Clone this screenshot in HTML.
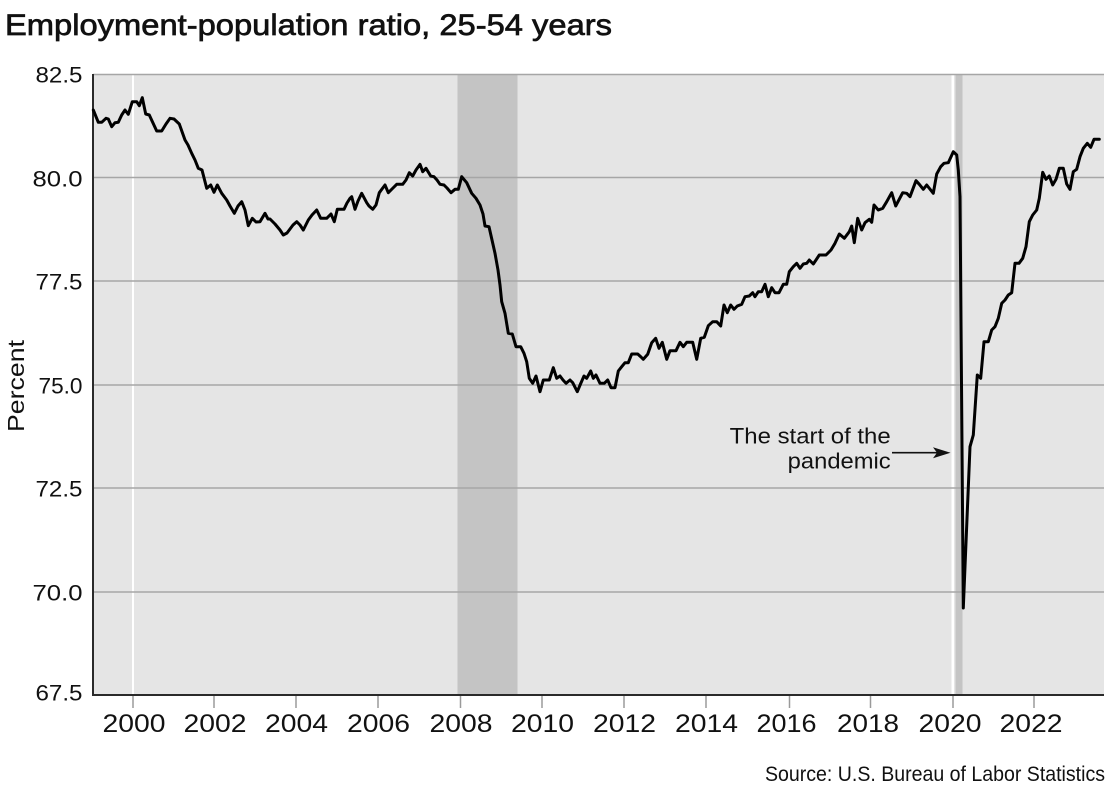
<!DOCTYPE html>
<html>
<head>
<meta charset="utf-8">
<style>
  html, body { margin: 0; padding: 0; background: #ffffff; }
  svg { display: block; }
  text { font-family: "Liberation Sans", "DejaVu Sans", sans-serif; fill: #111; }
</style>
</head>
<body>
<svg width="1114" height="785" viewBox="0 0 1114 785" xmlns="http://www.w3.org/2000/svg">
  <!-- Title -->
  <text x="5" y="35" font-size="30" textLength="607" lengthAdjust="spacingAndGlyphs" stroke="#111" stroke-width="0.7">Employment-population ratio, 25-54 years</text>

  <!-- Plot background -->
  <rect x="93" y="74" width="1011" height="621" fill="#e5e5e5"/>

  <!-- Recession shading -->
  <rect x="457.5" y="74" width="60" height="621" fill="#c4c4c4"/>
  <rect x="955.5" y="74" width="7" height="621" fill="#c4c4c4"/>

  <!-- White vertical markers -->
  <rect x="132" y="74" width="2" height="621" fill="#ffffff"/>
  <rect x="951.5" y="74" width="2.5" height="621" fill="#ffffff"/>

  <!-- Gridlines -->
  <g stroke="#a6a6a6" stroke-width="1.5">
    <line x1="93" y1="74.5" x2="1104" y2="74.5"/>
    <line x1="93" y1="177.5" x2="1104" y2="177.5"/>
    <line x1="93" y1="281" x2="1104" y2="281"/>
    <line x1="93" y1="385" x2="1104" y2="385"/>
    <line x1="93" y1="488" x2="1104" y2="488"/>
    <line x1="93" y1="592" x2="1104" y2="592"/>
  </g>

  <!-- Axes -->
  <line x1="93" y1="74" x2="93" y2="695" stroke="#2a2a2a" stroke-width="2"/>
  <line x1="92" y1="695" x2="1104" y2="695" stroke="#2a2a2a" stroke-width="2"/>

  <!-- X ticks -->
  <g stroke="#9a9a9a" stroke-width="1.5">
    <line x1="133" y1="696" x2="133" y2="708"/>
    <line x1="214" y1="696" x2="214" y2="708"/>
    <line x1="296" y1="696" x2="296" y2="708"/>
    <line x1="378" y1="696" x2="378" y2="708"/>
    <line x1="460.5" y1="696" x2="460.5" y2="708"/>
    <line x1="542" y1="696" x2="542" y2="708"/>
    <line x1="624" y1="696" x2="624" y2="708"/>
    <line x1="706" y1="696" x2="706" y2="708"/>
    <line x1="789.5" y1="696" x2="789.5" y2="708"/>
    <line x1="870.5" y1="696" x2="870.5" y2="708"/>
    <line x1="953" y1="696" x2="953" y2="708"/>
    <line x1="1034" y1="696" x2="1034" y2="708"/>
  </g>

  <!-- X labels -->
  <g font-size="25" text-anchor="middle">
    <text x="134" y="732" textLength="63" lengthAdjust="spacingAndGlyphs">2000</text>
    <text x="215" y="732" textLength="63" lengthAdjust="spacingAndGlyphs">2002</text>
    <text x="296.5" y="732" textLength="63" lengthAdjust="spacingAndGlyphs">2004</text>
    <text x="378.5" y="732" textLength="63" lengthAdjust="spacingAndGlyphs">2006</text>
    <text x="461" y="732" textLength="63" lengthAdjust="spacingAndGlyphs">2008</text>
    <text x="542.5" y="732" textLength="63" lengthAdjust="spacingAndGlyphs">2010</text>
    <text x="624.5" y="732" textLength="63" lengthAdjust="spacingAndGlyphs">2012</text>
    <text x="706.5" y="732" textLength="63" lengthAdjust="spacingAndGlyphs">2014</text>
    <text x="786.5" y="732" textLength="60" lengthAdjust="spacingAndGlyphs">2016</text>
    <text x="868" y="732" textLength="62" lengthAdjust="spacingAndGlyphs">2018</text>
    <text x="950" y="732" textLength="63" lengthAdjust="spacingAndGlyphs">2020</text>
    <text x="1031" y="732" textLength="63" lengthAdjust="spacingAndGlyphs">2022</text>
  </g>

  <!-- Y labels -->
  <g font-size="22" text-anchor="end">
    <text x="82.5" y="82.5" textLength="47" lengthAdjust="spacingAndGlyphs">82.5</text>
    <text x="82.5" y="186.5" textLength="50" lengthAdjust="spacingAndGlyphs">80.0</text>
    <text x="82.5" y="289.5" textLength="47" lengthAdjust="spacingAndGlyphs">77.5</text>
    <text x="82.5" y="393.5" textLength="44" lengthAdjust="spacingAndGlyphs">75.0</text>
    <text x="82.5" y="496.5" textLength="47" lengthAdjust="spacingAndGlyphs">72.5</text>
    <text x="82.5" y="600.5" textLength="50" lengthAdjust="spacingAndGlyphs">70.0</text>
    <text x="82.5" y="700.5" textLength="47" lengthAdjust="spacingAndGlyphs">67.5</text>
  </g>

  <!-- Y axis title -->
  <text transform="translate(24,386) rotate(-90)" font-size="23" text-anchor="middle" textLength="92" lengthAdjust="spacingAndGlyphs">Percent</text>

  <!-- Data line -->
  <polyline fill="none" stroke="#000" stroke-width="3" stroke-linejoin="round" stroke-linecap="round"
    points="93.3,110 98.3,122.3 101.7,122.3 106,118.3 108.3,119 111.7,126.7 115,122.7 118.3,122.3 121.7,115 125,110 128.3,114.3 132.3,101.7 136.7,101.7 139.3,105.7 142.3,97.7 145.7,114 149.3,115 156.7,131 161.7,131 166,124 170,118.3 174,119 179.3,124 185,140 188,145 191.7,153.3 195,160 198.3,168.3 202,170 206.7,188.3 210.7,185 214,192.3 217.3,185 221.7,193.3 226.7,200 230,206 234.3,213.3 238,206 241.7,201.7 245,210 248.3,225.7 252.3,218.3 256,222 260,221.7 265,213.3 268,219 270,219 275,224 280,230 283.3,235 287,233 290,229 293,225 296.7,221.7 300,225 303.3,230 308.3,220 312,215 316.7,210 320.7,218.3 326.7,218.3 331,214 334.3,221.7 337.3,209.3 344,209.3 347,203 350,198.3 351.7,196.7 355,209.3 358,201 361.7,193.3 366.7,202.7 369,206 372.7,209.3 376,205 379.3,192.7 385,185 388.3,192.7 392,189 396.7,184.3 402.7,184.3 406,180 409.3,172.7 412.7,176 416,170 420,164.3 422.7,171.7 426,168.3 430.7,176 434,176.7 437,180 440,184.3 444,185 447,188 451,192.7 455,189.3 458.3,189.3 461.7,176.7 466.7,182.7 471.7,193.3 476,198.3 480,205 483,214 485,226 489,226.7 492,240 495,253.3 498,270 500,285 501.7,301.7 505,313.3 508.3,333.3 512.3,334 516,346.7 520.7,346.7 524,353.3 526.7,361.7 529.3,378.3 532.7,383.3 536,376 540,391.7 543.3,380 549.3,380 553.3,367.7 556.7,378.3 560,376 563,380 566,383.3 570,380 572.7,382.7 577.3,391.7 580.5,384 584,376 586.7,378.3 590.7,371 593.3,378.3 596,375 600,383.3 604.3,383.3 607.7,380 611,387.7 615,387.7 618.3,371 621.7,366.7 625,362.7 628.3,362.7 631.7,354 637.7,354 641,357 643.3,359.3 647.7,354.3 651.7,342.7 655.7,338.3 659,348.3 662.3,342.3 666.7,359.3 670,350.7 676,350.7 680,342.3 683.3,346.7 686.7,342.3 692.7,342.3 696.7,359.3 700.7,338.3 704.3,337.3 708.3,325.7 712.7,321.7 716.7,321.7 720.7,326 724,305 727.3,312.7 730.7,305 734,309.3 737.3,306 741.7,304.3 745,296.7 749.3,296 752.7,292.7 755,296.7 758.3,291.7 761.7,291.7 765,284.3 768.3,296.7 771.7,287.7 775,292.7 779,292.7 783.3,284.3 786.7,284.3 789.3,271.7 793.3,266.7 796.7,263.3 800,268.3 803.3,264 806.7,263.3 809.3,260 813.3,264 816,260 819.3,255 826,255 831,250 835,243.3 839.3,234 844.3,238.3 849.3,231.7 851.7,226 854.3,242.7 857.7,218.3 861.7,230 865,222.7 869.3,219.3 871.7,222.3 874,205 878.3,210 882.7,208.3 886.7,201.7 891.7,192.7 895.7,206 902.7,192.7 906.7,193.3 910,196.7 916,180.7 919.3,184.3 923.3,189.3 926.7,185 933.3,193.3 936.7,174 940.7,166.7 944,163.3 948.3,162.7 953.3,151.7 956.7,155 958.3,170 960,196.7 963.3,608 965,566.7 970,446.7 973.3,435 977.3,375 980.7,378.3 984,341.7 988.3,341.7 991.7,330 995,326.7 998.3,318.3 1001.7,303.3 1005,300 1008.3,295 1011.7,292.7 1015,263.3 1019,263.3 1022.7,258.3 1026,246.7 1029.3,221.7 1032.7,215 1036.7,210 1039.3,198.3 1042.7,172.3 1046,179.3 1049.3,176 1052.7,185 1056,179.3 1059.3,168.3 1063.3,168.3 1066.7,184 1070,189.3 1073.3,171.7 1076.7,169.3 1080,156.7 1083.3,148.3 1087.3,143.3 1090.7,147.3 1094,139.3 1099.3,139.3"/>

  <!-- Annotation -->
  <g font-size="22" text-anchor="end">
    <text x="890.7" y="443.3" textLength="161" lengthAdjust="spacingAndGlyphs">The start of the</text>
    <text x="890.7" y="468.3" textLength="103" lengthAdjust="spacingAndGlyphs">pandemic</text>
  </g>
  <line x1="892" y1="452.7" x2="940" y2="452.7" stroke="#111" stroke-width="1.6"/>
  <polygon points="933,447.3 950.5,452.7 933,458.2 937,452.7" fill="#111"/>

  <!-- Source -->
  <text x="1105" y="781" font-size="21" text-anchor="end" textLength="340" lengthAdjust="spacingAndGlyphs">Source: U.S. Bureau of Labor Statistics</text>
</svg>
</body>
</html>
